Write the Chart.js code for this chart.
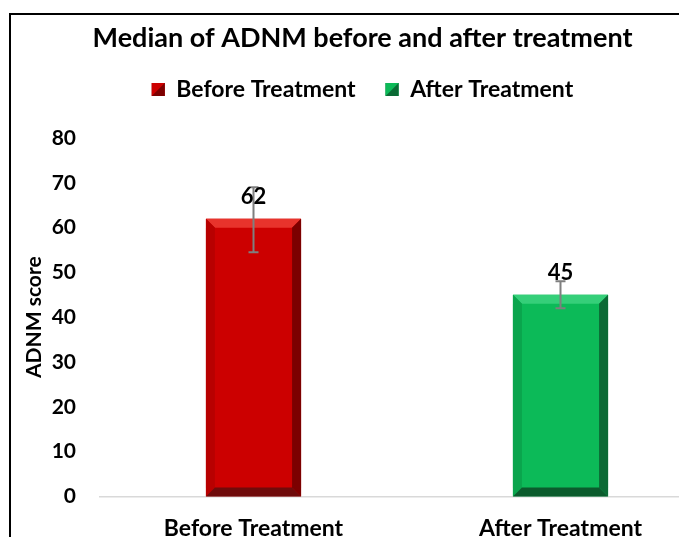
<!DOCTYPE html>
<html>
<head>
<meta charset="utf-8">
<script src="https://cdn.jsdelivr.net/npm/chart.js@4/dist/chart.umd.min.js"></script>
<style>
  html, body { margin: 0; padding: 0; background: #fff; overflow: hidden; width: 679px; height: 537px; }
  #frame { position: absolute; left: 9px; top: 13px; width: 703px; height: 561px; border: 2px solid #000; background: #fff; }
  #chart { display: block; }
</style>
</head>
<body>
<div id="frame"><canvas id="chart" width="703" height="561"></canvas></div>
<script>
// Median ADNM score before and after treatment, with error ranges
const categories = ['Before Treatment', 'After Treatment'];
const seriesNames = ['Before Treatment', 'After Treatment'];
const medians = [62, 45];
const errLower = [54.5, 42];
const errUpper = [69, 48];
const yTicks = [0, 10, 20, 30, 40, 50, 60, 70, 80];

// face / bevel shades per series
const faceColors  = ['#cc0000', '#0cba58'];
const topBevel    = ['#e8332c', '#35cf79'];
const leftBevel   = ['#b80000', '#0aa54d'];
const rightBevel  = ['#7c0000', '#0b6a35'];
const bottomBevel = ['#6f0b0b', '#0b5b2d'];

const FONT = 'Lato, "Open Sans", sans-serif';

// empty strip between the legend and the plot area
const spacerPlugin = {
  id: 'legendSpacer',
  beforeInit(chart) {
    const box = {
      position: 'top', weight: 500, fullSize: true,
      options: { stackWeight: 1 },
      top: 0, left: 0, right: 0, bottom: 0, width: 0, height: 0,
      isHorizontal() { return true; },
      getPadding() { return { top: 0, left: 0, right: 0, bottom: 0 }; },
      update(maxWidth) { this.width = maxWidth; this.height = 27; },
      draw() {}
    };
    Chart.layouts.addBox(chart, box);
  }
};

// bevelled look drawn over each bar element
const bevelPlugin = {
  id: 'bevel',
  afterDatasetsDraw(chart) {
    const ctx = chart.ctx;
    chart.data.datasets.forEach((ds, di) => {
      const meta = chart.getDatasetMeta(di);
      meta.data.forEach((el, i) => {
        if (ds.data[i] == null) return;
        const { x, y, base, width } = el.getProps(['x', 'y', 'base', 'width'], true);
        const l = x - width / 2, r = x + width / 2, t = y, b = base;
        const bv = 9;
        const poly = (pts, c) => {
          ctx.beginPath();
          ctx.moveTo(pts[0][0], pts[0][1]);
          for (let k = 1; k < pts.length; k++) ctx.lineTo(pts[k][0], pts[k][1]);
          ctx.closePath();
          ctx.fillStyle = c;
          ctx.fill();
        };
        ctx.save();
        poly([[l, t], [r, t], [r - bv, t + bv], [l + bv, t + bv]], topBevel[di]);
        poly([[l, t], [l + bv, t + bv], [l + bv, b - bv], [l, b]], leftBevel[di]);
        poly([[r, t], [r, b], [r - bv, b - bv], [r - bv, t + bv]], rightBevel[di]);
        poly([[l, b], [l + bv, b - bv], [r - bv, b - bv], [r, b]], bottomBevel[di]);
        ctx.restore();
      });
    });
  },
  afterDraw(chart) {
    // two-tone legend swatches
    const lg = chart.legend;
    if (!lg || !lg.legendHitBoxes) return;
    const ctx = chart.ctx;
    const fs = 23, bw = 13, bh = 13;
    lg.legendHitBoxes.forEach((hb, k) => {
      const x = hb.left, y = hb.top + Math.max((fs - bh) / 2, 0);
      ctx.save();
      ctx.fillStyle = rightBevel[k];
      ctx.fillRect(x, y, bw, bh);
      ctx.beginPath();
      ctx.moveTo(x, y); ctx.lineTo(x + bw, y); ctx.lineTo(x, y + bh); ctx.closePath();
      ctx.fillStyle = faceColors[k];
      ctx.fill();
      ctx.restore();
    });
  }
};

// error bars and value labels
const errorPlugin = {
  id: 'errorBars',
  afterDatasetsDraw(chart) {
    const ctx = chart.ctx;
    const ys = chart.scales.y;
    chart.data.datasets.forEach((ds, di) => {
      const meta = chart.getDatasetMeta(di);
      meta.data.forEach((el, i) => {
        if (ds.data[i] == null) return;
        const x = el.x;
        const yHi = ys.getPixelForValue(errUpper[i]);
        const yLo = ys.getPixelForValue(errLower[i]);
        ctx.save();
        ctx.strokeStyle = '#7f7f7f';
        ctx.lineWidth = 2;
        ctx.beginPath();
        ctx.moveTo(x, yHi); ctx.lineTo(x, yLo);
        ctx.moveTo(x - 5, yHi); ctx.lineTo(x + 5, yHi);
        ctx.moveTo(x - 5, yLo); ctx.lineTo(x + 5, yLo);
        ctx.stroke();
        ctx.restore();
      });
    });
    chart.data.datasets.forEach((ds, di) => {
      const meta = chart.getDatasetMeta(di);
      meta.data.forEach((el, i) => {
        if (ds.data[i] == null) return;
        ctx.save();
        ctx.font = 'bold 22px ' + FONT;
        ctx.fillStyle = '#000';
        ctx.textAlign = 'center';
        ctx.textBaseline = 'middle';
        ctx.fillText(String(ds.data[i]), el.x, el.y - 22);
        ctx.restore();
      });
    });
  }
};

const datasets = seriesNames.map((name, k) => ({
  label: name,
  data: medians.map((v, i) => (i === k ? v : null)),
  backgroundColor: faceColors[k],
  borderWidth: 0,
  grouped: false,
  barPercentage: 0.31,
  categoryPercentage: 1
}));

new Chart(document.getElementById('chart'), {
  type: 'bar',
  data: { labels: categories, datasets },
  options: {
    responsive: false,
    animation: false,
    layout: { padding: { left: 0, right: 0, top: 0, bottom: 16 } },
    plugins: {
      title: {
        display: true,
        text: 'Median of ADNM before and after treatment',
        color: '#000',
        font: { family: FONT, size: 27, weight: 'bold', lineHeight: 1 },
        padding: { top: 10, bottom: -4 }
      },
      legend: {
        display: true,
        position: 'top',
        labels: {
          color: '#000',
          font: { family: FONT, size: 23, weight: 'bold' },
          boxWidth: 13,
          boxHeight: 13,
          padding: 30
        }
      },
      tooltip: { enabled: false }
    },
    scales: {
      x: {
        grid: { display: false, drawTicks: false },
        border: { display: true, color: '#d9d9d9', width: 1.5 },
        ticks: { color: '#000', font: { family: FONT, size: 23, weight: 'bold' }, padding: 18 }
      },
      y: {
        min: 0,
        max: 80,
        afterBuildTicks(scale) { scale.ticks = yTicks.map(v => ({ value: v })); },
        afterFit(scale) { scale.width = 89; },
        grid: { display: false, drawTicks: false },
        border: { display: false },
        ticks: { color: '#000', font: { family: FONT, size: 21, weight: 'bold' }, padding: 24 },
        title: {
          display: true,
          text: 'ADNM score',
          color: '#000',
          font: { family: FONT, size: 21, weight: 'bold' },
          padding: { top: 11, bottom: 0 }
        }
      }
    }
  },
  plugins: [spacerPlugin, bevelPlugin, errorPlugin]
});
</script>
</body>
</html>
